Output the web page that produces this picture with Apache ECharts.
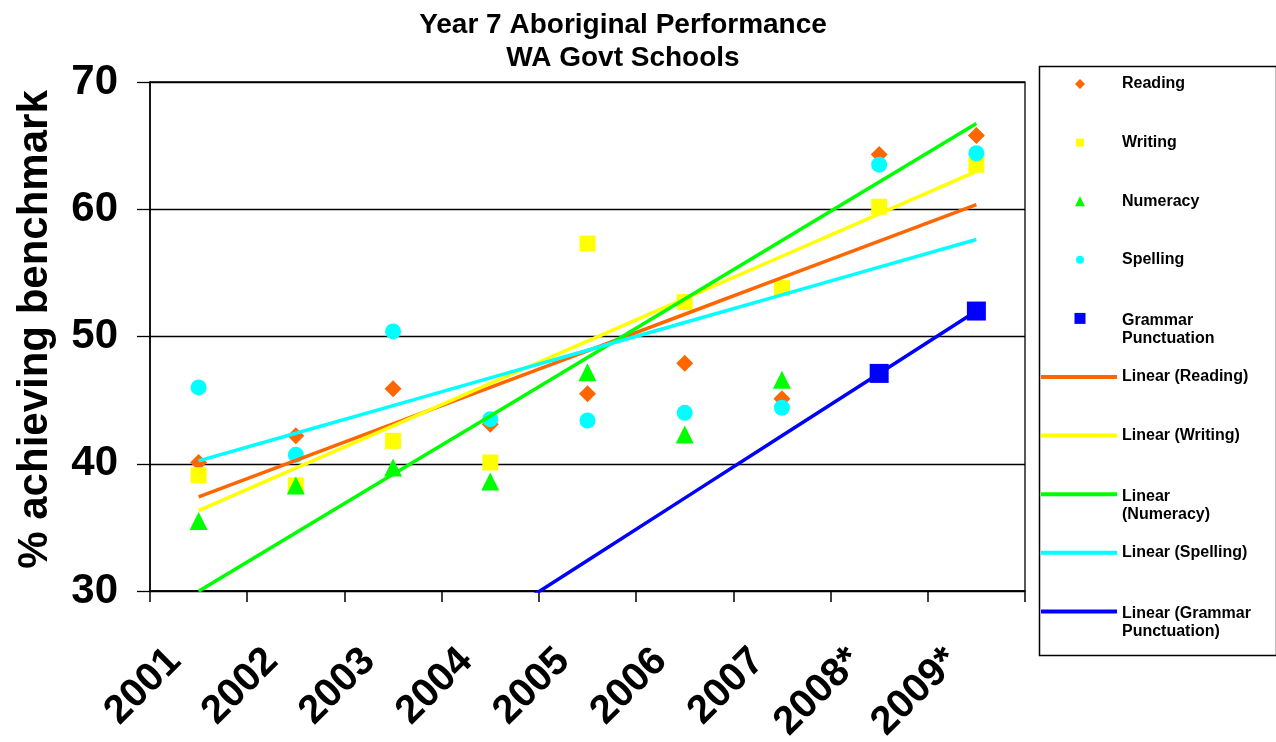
<!DOCTYPE html>
<html><head><meta charset="utf-8">
<script src="https://cdn.jsdelivr.net/npm/echarts@6/dist/echarts.min.js"></script>
<style>html,body{margin:0;padding:0;background:#fff}#c{width:1276px;height:742px}</style>
</head><body><div id="c"></div>
<script>
// ---- data ----
const years    = ['2001','2002','2003','2004','2005','2006','2007','2008*','2009*'];
const reading  = [40.1, 42.2, 45.9, 43.1, 45.5, 47.9, 45.1, 64.3, 65.8];
const writing  = [39.1, 38.3, 41.8, 40.1, 57.3, 52.7, 53.8, 60.2, 63.5];
// 2008*/2009* numeracy lie above the 70 axis limit (hidden, inferred from the trend line)
const numeracy = [35.5, 38.3, 39.7, 38.6, 47.2, 42.3, 46.6, 73.0, 74.0];
const spelling = [46.0, 40.7, 50.4, 43.5, 43.4, 44.0, 44.4, 63.5, 64.4];
const grammar  = [null, null, null, null, null, null, null, 47.1, 52.0];
const yTicks   = [30, 40, 50, 60, 70];

const FONT = 'Liberation Sans, Arial, sans-serif';

// least-squares linear trend over category index (Excel "Linear" trendline)
function trend(vals) {
  const pts = [];
  vals.forEach((v, i) => { if (v != null) pts.push([i + 1, v]); });
  const n = pts.length;
  const mx = pts.reduce((s, p) => s + p[0], 0) / n;
  const my = pts.reduce((s, p) => s + p[1], 0) / n;
  let sxy = 0, sxx = 0;
  pts.forEach(p => { sxy += (p[0] - mx) * (p[1] - my); sxx += (p[0] - mx) * (p[0] - mx); });
  const b = sxy / sxx;
  return vals.map((_, i) => +(my + b * (i + 1 - mx)).toFixed(3));
}

const seriesDefs = [
  { name: 'Reading', data: reading, color: '#FF6600', symbol: 'diamond', size: 17, icon: 10 },
  { name: 'Writing', data: writing, color: '#FFFF00', symbol: 'rect', size: 16, icon: 8 },
  { name: 'Numeracy', data: numeracy, color: '#00FF00', symbol: 'triangle', size: 18, icon: 10 },
  { name: 'Spelling', data: spelling, color: '#00FFFF', symbol: 'circle', size: 16, icon: 8 },
  { name: 'Grammar Punctuation', data: grammar, color: '#0000FF', symbol: 'rect', size: 19, icon: 11 }
];
// legend line breaks: [first line, second line]
const legendBreaks = {
  'Grammar Punctuation': ['Grammar', 'Punctuation'],
  'Linear (Numeracy)': ['Linear', '(Numeracy)'],
  'Linear (Grammar Punctuation)': ['Linear (Grammar', 'Punctuation)']
};

const series = [];
seriesDefs.forEach(d => {
  series.push({
    name: d.name, type: 'scatter', data: d.data, symbol: d.symbol, symbolSize: d.size,
    itemStyle: { color: d.color, opacity: 1 }, z: 2, clip: true
  });
});
seriesDefs.forEach(d => {
  series.push({
    name: 'Linear (' + d.name + ')', type: 'line', data: trend(d.data), symbol: 'none',
    showSymbol: false, lineStyle: { color: d.color, width: 3.5 }, itemStyle: { color: d.color },
    z: 3, clip: true, silent: true
  });
});

const LH = 20;
const fmt = n => legendBreaks[n] ? '{a|' + legendBreaks[n][0] + '}\n{b|' + legendBreaks[n][1] + '}' : n;
const legends = series.map((s, i) => {
  const isLine = i >= 5;
  const multi = legendBreaks[s.name] != null;
  const base = { fontFamily: FONT, fontSize: 16, fontWeight: 'bold', color: '#000' };
  const ts = Object.assign({}, base, {
    lineHeight: LH,
    rich: {
      a: Object.assign({}, base, { lineHeight: 2 * LH, verticalAlign: 'bottom' }),
      b: Object.assign({}, base, { lineHeight: LH })
    }
  });
  const cy = 84 + i * 58.6;
  const boxH = multi ? 3 * LH : LH;   // first line sits level with the icon
  if (isLine) {
    return {
      data: [s.name], orient: 'vertical', left: 1041, top: cy - boxH / 2, padding: 0,
      icon: 'rect', itemWidth: 76, itemHeight: 4, selectedMode: false,
      formatter: fmt, textStyle: ts
    };
  }
  const d = seriesDefs[i];
  ts.padding = [0, 0, 0, 37 - d.icon / 2];
  return {
    data: [s.name], orient: 'vertical', left: 1080 - d.icon / 2, top: cy - boxH / 2, padding: 0,
    icon: d.symbol, itemWidth: d.icon, itemHeight: d.icon, selectedMode: false,
    formatter: fmt, textStyle: ts
  };
});

const chart = echarts.init(document.getElementById('c'));
chart.setOption({
  animation: false,
  backgroundColor: '#fff',
  title: {
    text: 'Year 7 Aboriginal Performance\nWA Govt Schools',
    left: 618, top: 4, textAlign: 'center',
    textStyle: { fontFamily: FONT, fontSize: 28, fontWeight: 'bold', color: '#000', lineHeight: 33 }
  },
  legend: legends,
  graphic: [{
    type: 'rect', left: 1037, top: 64, shape: { width: 237, height: 589 },
    style: { fill: 'none', stroke: '#000', lineWidth: 1.5 }, silent: true
  }],
  grid: { left: 150, right: 251, top: 82, bottom: 151, show: true, borderColor: '#000',
    borderWidth: 1.3, backgroundColor: 'transparent', containLabel: false, outerBoundsMode: 'none' },
  xAxis: {
    type: 'category', data: years, boundaryGap: true,
    axisLine: { show: true, lineStyle: { color: '#000', width: 1.5 } },
    axisTick: { show: true, length: 11, lineStyle: { color: '#000', width: 1.5 } },
    axisLabel: { rotate: 45, interval: 0, margin: 40, padding: [0, 34, 0, 0], fontFamily: FONT,
      fontSize: 40, fontWeight: 'bold', color: '#000', hideOverlap: false },
    splitLine: { show: false }
  },
  yAxis: {
    type: 'value', min: yTicks[0], max: yTicks[yTicks.length - 1], interval: yTicks[1] - yTicks[0],
    name: '% achieving benchmark', nameLocation: 'middle', nameGap: 94,
    nameTextStyle: { fontFamily: FONT, fontSize: 42, fontWeight: 'bold', color: '#000', padding: [0, 0, 0, 14] },
    axisLine: { show: true, lineStyle: { color: '#000', width: 1.5 } },
    axisTick: { show: true, length: 13, lineStyle: { color: '#000', width: 1.3 } },
    axisLabel: { margin: 32, fontFamily: FONT, fontSize: 42, fontWeight: 'bold', color: '#000' },
    splitLine: { show: true, lineStyle: { color: '#000', width: 1.3 } }
  },
  series: series
});
</script></body></html>
